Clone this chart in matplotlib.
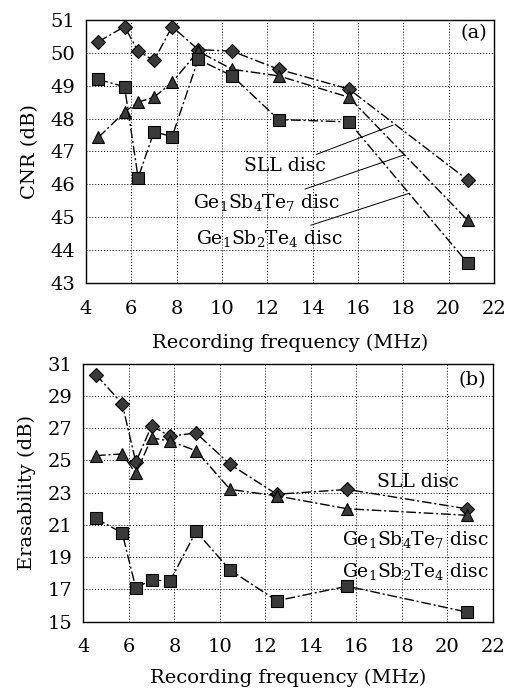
import numpy as np
import matplotlib.pyplot as plt

plt.rcParams['font.family'] = 'DejaVu Serif'
plt.rcParams['mathtext.fontset'] = 'dejavuserif'

freq = [4.55, 5.7, 6.3, 7.0, 7.8, 8.95, 10.45, 12.5, 15.6, 20.85]

# (a) CNR
cnr_sll = [50.34, 50.8, 50.05, 49.77, 50.8, 50.1, 50.05, 49.5, 48.9, 46.13]
cnr_147 = [47.43, 48.2, 48.5, 48.65, 49.1, 50.05, 49.5, 49.3, 48.65, 44.9]
cnr_124 = [49.19, 48.97, 46.2, 47.6, 47.45, 49.8, 49.3, 47.97, 47.9, 43.6]

# (b) Erasability
era_sll = [30.32, 28.52, 24.9, 27.15, 26.5, 26.7, 24.75, 22.9, 23.2, 22.0]
era_147 = [25.3, 25.4, 24.2, 26.4, 26.2, 25.6, 23.2, 22.8, 22.0, 21.6]
era_124 = [21.4, 20.5, 17.1, 17.6, 17.5, 20.6, 18.2, 16.3, 17.2, 15.6]

lab_sll = 'SLL disc'
lab_147 = r'Ge$_1$Sb$_4$Te$_7$ disc'
lab_124 = r'Ge$_1$Sb$_2$Te$_4$ disc'

fig = plt.figure(figsize=(5.06, 6.90), dpi=100)
ax1 = fig.add_axes([0.170, 0.590, 0.806, 0.381])
ax2 = fig.add_axes([0.165, 0.099, 0.809, 0.374])

ls = (0, (7, 2, 1.5, 2))
mk = dict(color='black', lw=1.0, ls=ls, mfc='#3a3a3a', mec='black', mew=0.8)
fs = 14

for ax, ys, ylims, yticks, ylabel, lp in [
        (ax1, (cnr_sll, cnr_147, cnr_124), (43, 51), np.arange(43, 52, 1), 'CNR (dB)', 12),
        (ax2, (era_sll, era_147, era_124), (15, 31), np.arange(15, 32, 2), 'Erasability (dB)', 9)]:
    ax.plot(freq, ys[0], marker='D', ms=7, **mk)
    ax.plot(freq, ys[1], marker='^', ms=9, **mk)
    ax.plot(freq, ys[2], marker='s', ms=9, **mk)
    ax.set_xlim(4, 22)
    ax.set_ylim(*ylims)
    ax.set_xticks(np.arange(4, 23, 2))
    ax.set_yticks(yticks)
    ax.grid(True, color='black', ls=(0, (1, 2)), lw=0.7)
    ax.tick_params(length=0, labelsize=fs)
    ax.tick_params(axis='x', pad=12)
    ax.tick_params(axis='y', pad=8)
    ax.set_xlabel('Recording frequency (MHz)', fontsize=fs, labelpad=lp)
    ax.set_ylabel(ylabel, fontsize=fs, labelpad=8)
    for s in ax.spines.values():
        s.set_linewidth(1.0)

ax1.text(21.7, 50.6, '(a)', ha='right', va='center', fontsize=fs)
ax2.text(21.7, 30.0, '(b)', ha='right', va='center', fontsize=fs)

fa = 13.5
ax1.annotate(lab_sll, xy=(17.55, 47.8), xytext=(14.6, 46.55), ha='right', va='center',
             fontsize=fa, arrowprops=dict(arrowstyle='-', lw=0.7, color='black',
                                          shrinkA=0, shrinkB=0))
ax1.annotate(lab_147, xy=(18.06, 46.9), xytext=(15.2, 45.45), ha='right', va='center',
             fontsize=fa, arrowprops=dict(arrowstyle='-', lw=0.7, color='black',
                                          shrinkA=0, shrinkB=0))
ax1.annotate(lab_124, xy=(18.28, 45.73), xytext=(15.35, 44.35), ha='right', va='center',
             fontsize=fa, arrowprops=dict(arrowstyle='-', lw=0.7, color='black',
                                          shrinkA=0, shrinkB=0))

ax2.text(16.9, 23.67, lab_sll, ha='left', va='center', fontsize=fa)
ax2.text(21.8, 20.1, lab_147, ha='right', va='center', fontsize=fa)
ax2.text(21.8, 18.1, lab_124, ha='right', va='center', fontsize=fa)

fig.savefig('out.png', dpi=100)
